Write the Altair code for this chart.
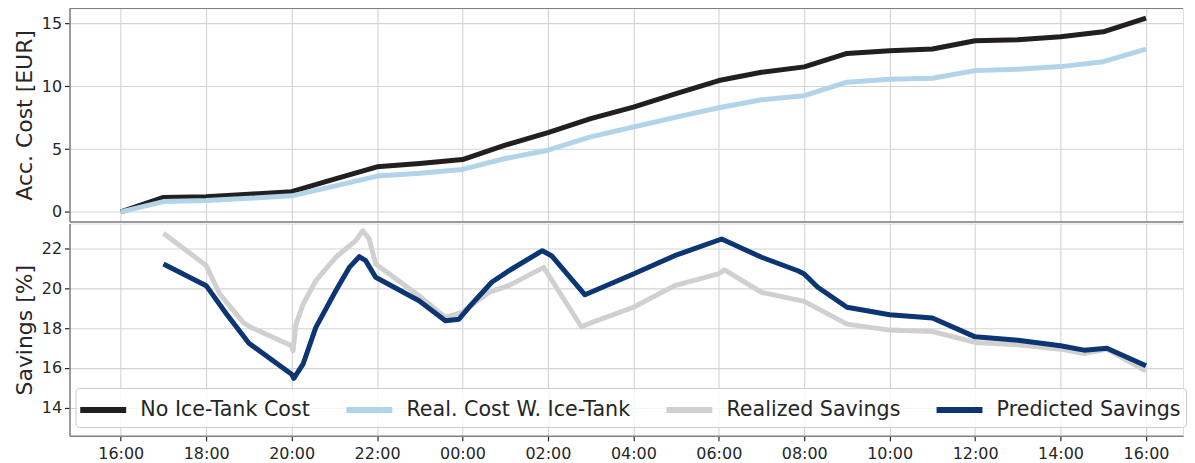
import altair as alt
import pandas as pd

# ---------------- data (hours after 16:00 on day 1) ----------------
cost_hours = list(range(25))
no_tank_cost = [0.0, 1.15, 1.21, 1.41, 1.61, 2.6, 3.59, 3.86, 4.17, 5.31, 6.32, 7.42, 8.35,
                9.41, 10.46, 11.12, 11.55, 12.62, 12.84, 12.97, 13.63, 13.71, 13.95, 14.34, 15.43]
real_cost = [0.0, 0.82, 0.9, 1.08, 1.28, 2.05, 2.85, 3.07, 3.38, 4.25, 4.91, 5.97, 6.76,
             7.55, 8.29, 8.93, 9.25, 10.33, 10.56, 10.64, 11.25, 11.36, 11.57, 11.96, 12.97]

realized_hours = [1.0, 2.0, 2.31, 2.86, 3.01, 4.0, 4.03, 4.1, 4.26, 4.57, 5.04, 5.5, 5.66, 5.81,
                  5.97, 6.98, 7.6, 7.99, 8.62, 9.08, 9.9, 10.79, 11.03, 12.0, 12.97, 13.99, 14.14,
                  15.0, 16.0, 17.0, 18.0, 19.0, 20.0, 21.0, 22.0, 22.55, 23.09, 24.0]
realized_savings = [22.79, 21.16, 19.73, 18.3, 18.08, 17.12, 16.87, 18.2, 19.2, 20.4, 21.58, 22.42,
                    22.92, 22.5, 21.24, 19.64, 18.55, 18.8, 19.81, 20.15, 21.07, 18.08, 18.3, 19.06,
                    20.15, 20.74, 20.94, 19.81, 19.36, 18.21, 17.91, 17.84, 17.29, 17.17, 16.95,
                    16.73, 16.95, 15.85]

predicted_hours = [1.0, 2.0, 2.47, 3.0, 4.0, 4.05, 4.26, 4.57, 5.04, 5.35, 5.59, 5.74, 5.97, 6.98,
                   7.6, 7.92, 8.15, 8.69, 9.08, 9.86, 10.09, 10.87, 12.0, 12.97, 14.06, 15.0, 15.85,
                   16.0, 16.32, 17.0, 18.0, 19.0, 20.0, 21.0, 22.0, 22.55, 23.09, 24.0]
predicted_savings = [21.24, 20.15, 18.75, 17.25, 15.69, 15.48, 16.19, 18.05, 19.89, 21.07, 21.61,
                     21.41, 20.57, 19.39, 18.38, 18.46, 19.06, 20.32, 20.9, 21.91, 21.66, 19.69,
                     20.74, 21.66, 22.5, 21.58, 20.9, 20.74, 20.07, 19.06, 18.68, 18.52, 17.57,
                     17.4, 17.12, 16.9, 17.0, 16.11]

series_names = ["No Ice-Tank Cost", "Real. Cost W. Ice-Tank", "Realized Savings", "Predicted Savings"]
series_colors = ["#231f20", "#b2d4ea", "#d0d0d0", "#0b3573"]

tick_hours = list(range(0, 25, 2))
cost_ticks = [0, 5, 10, 15]
savings_ticks = [14, 16, 18, 20, 22]

BASE = pd.Timestamp("2021-01-01 16:00")
X_START_H = -1.2
X_END_H = 24.87


def to_time(hours):
    return [BASE + pd.Timedelta(minutes=round(h * 60)) for h in hours]


def dt(h):
    t = BASE + pd.Timedelta(minutes=round(h * 60))
    return alt.DateTime(year=t.year, month=t.month, date=t.day, hours=t.hour, minutes=t.minute)


def frame(hours, values, name):
    return pd.DataFrame({"time": to_time(hours), "value": values, "series": name})


df_black = frame(cost_hours, no_tank_cost, series_names[0])
df_blue = frame(cost_hours, real_cost, series_names[1])
df_gray = frame(realized_hours, realized_savings, series_names[2])
df_navy = frame(predicted_hours, predicted_savings, series_names[3])

W = 1117
H_TOP = 214
H_BOT = 213
FONT = "DejaVu Sans"
TXT = "#262626"
SPINE = "#808080"

x_scale = alt.Scale(domain=[dt(X_START_H), dt(X_END_H)], nice=False)
color_scale = alt.Scale(domain=series_names, range=series_colors)


def y_axis(title, values, h):
    return alt.Axis(values=values, title=title, titleFontSize=22, titleFont=FONT,
                    titleFontWeight="normal", titleColor=TXT, titleX=-45, titleY=h / 2,
                    titleAngle=270, titleAlign="center", titleBaseline="middle",
                    labelFontSize=16, labelFont=FONT, labelColor=TXT, labelPadding=3,
                    tickSize=5, tickColor=TXT, tickWidth=1.2,
                    domainColor=SPINE, domainWidth=1.5,
                    gridColor="#d3d3d3", gridWidth=1.1)


x_axis_top = alt.Axis(values=[dt(h) for h in tick_hours], labels=False, ticks=False, title=None,
                      domainColor=SPINE, domainWidth=1.5, gridColor="#d3d3d3", gridWidth=1.1)
x_axis_bot = alt.Axis(values=[dt(h) for h in tick_hours], format="%H:%M", title=None,
                      labelFontSize=16, labelFont=FONT, labelColor=TXT, labelPadding=5,
                      tickSize=5, tickColor=TXT, tickWidth=1.2,
                      domainColor=SPINE, domainWidth=1.5, gridColor="#d3d3d3", gridWidth=1.1)

# legend line symbol: 46 px long drawn inside a 28 px symbol box
legend = alt.Legend(title=None, orient="none", legendX=6, legendY=165, direction="horizontal",
                    columns=4, symbolType="M-1.23,0H2.06", symbolSize=784, symbolStrokeWidth=6,
                    labelFontSize=20.7, labelFont=FONT, labelColor=TXT, labelOffset=26,
                    columnPadding=23, padding=5, fillColor="rgba(255,255,255,0.8)",
                    strokeColor="#cccccc", cornerRadius=4, labelLimit=400)


def line(df, yscale, yaxis, xaxis, leg):
    return alt.Chart(df).mark_line(strokeWidth=5, strokeCap="butt", strokeJoin="round").encode(
        x=alt.X("time:T", scale=x_scale, axis=xaxis),
        y=alt.Y("value:Q", scale=yscale, axis=yaxis),
        color=alt.Color("series:N", scale=color_scale, legend=leg),
    )


top_y = alt.Scale(domain=[-0.77, 16.22], nice=False, zero=False)
bot_y = alt.Scale(domain=[12.58, 23.28], nice=False, zero=False)

top_frame = alt.Chart(pd.DataFrame({"a": [0]})).mark_rule(color=SPINE, strokeWidth=1.5).encode(
    x=alt.value(0), x2=alt.value(W), y=alt.value(0))

top = alt.layer(
    line(df_black, top_y, y_axis("Acc. Cost [EUR]", cost_ticks, H_TOP), x_axis_top, None),
    line(df_blue, top_y, y_axis("Acc. Cost [EUR]", cost_ticks, H_TOP), x_axis_top, None),
    top_frame,
).properties(width=W, height=H_TOP)

bottom = alt.layer(
    line(df_gray, bot_y, y_axis("Savings [%]", savings_ticks, H_BOT), x_axis_bot, legend),
    line(df_navy, bot_y, y_axis("Savings [%]", savings_ticks, H_BOT), x_axis_bot, legend),
).properties(width=W, height=H_BOT)

chart = alt.vconcat(top, bottom, spacing=0).resolve_scale(color="independent").properties(
    padding={"left": 4.7, "top": -2.5, "right": 0, "bottom": 1}
).configure_view(stroke=None).configure(font=FONT)

chart.save("out.html", embed_options={"renderer": "svg", "actions": False})
